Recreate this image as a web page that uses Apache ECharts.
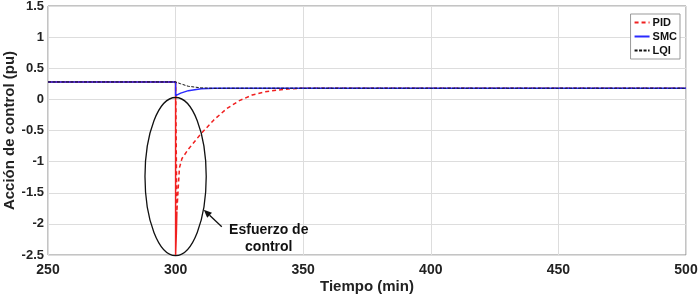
<!DOCTYPE html>
<html><head><meta charset="utf-8">
<script src="https://cdn.jsdelivr.net/npm/echarts@6/dist/echarts.min.js"></script>
<style>html,body{margin:0;padding:0;background:#fff}#c{width:700px;height:297px}</style>
</head><body><div id="c"></div>
<script>
const xTicks = [250, 300, 350, 400, 450, 500];
const yTicks = [-2.5, -2, -1.5, -1, -0.5, 0, 0.5, 1, 1.5];
// PID: solid spike at step, then dashed recovery
const pidSpike = [[250,0.28],[300,0.28],[300,-2.5],[300.3,-2.15],[300.5,-1.8]];
const pidDash = [[250,0.28],[300,0.28],[300.5,-1.8],[301,-1.45],[301.5,-1.1],[302.5,-0.95],[305,-0.8],[310,-0.55],[315,-0.33],[320,-0.15],[325,-0.02],[330,0.07],[335,0.12],[340,0.15],[345,0.17],[350,0.18],[500,0.18]];
const smc = [[250,0.28],[300,0.28],[300,0.06],[302,0.1],[305,0.14],[310,0.17],[315,0.18],[500,0.18]];
const lqi = [[250,0.28],[300,0.28],[302,0.25],[305,0.21],[310,0.185],[315,0.178],[320,0.18],[500,0.18]];
const ellipseAnn = {cx:300, cy:-1.24, rx:12, ry:1.27};
const annText = ['Esfuerzo de', 'control'];

const chart = echarts.init(document.getElementById('c'));
const F = 'Liberation Sans, Arial, sans-serif';
chart.setOption({
  animation:false,
  grid:{left:48, right:14, top:6, bottom:42, show:true, borderColor:'#888', borderWidth:1, containLabel:false, outerBoundsMode:'none'},
  legend:{
    right:20, top:14, orient:'vertical', itemGap:3, itemWidth:15, itemHeight:8,
    backgroundColor:'#fff', borderColor:'#999', borderWidth:1, padding:[3,3,3,3],
    itemStyle:{opacity:0},
    textStyle:{fontFamily:F, fontWeight:'bold', fontSize:11, color:'#111', padding:[0,0,0,-2]},
    data:['PID','SMC','LQI']
  },
  xAxis:{type:'value', min:250, max:500, interval:50,
    axisLine:{show:false}, axisTick:{show:false},
    splitLine:{show:true, lineStyle:{color:'#ddd'}},
    axisLabel:{fontFamily:F, fontWeight:'bold', fontSize:14, color:'#222', margin:8},
    name:'Tiempo (min)', nameLocation:'middle', nameGap:24, nameMoveOverlap:false,
    nameTextStyle:{fontFamily:F, fontWeight:'bold', fontSize:15, color:'#222'}
  },
  yAxis:{type:'value', min:-2.5, max:1.5, interval:0.5,
    axisLine:{show:false}, axisTick:{show:false},
    splitLine:{show:true, lineStyle:{color:'#ddd'}},
    axisLabel:{fontFamily:F, fontWeight:'bold', fontSize:13, color:'#222', margin:4},
    name:'Acción de control (pu)', nameLocation:'middle', nameGap:31, nameMoveOverlap:false,
    nameTextStyle:{fontFamily:F, fontWeight:'bold', fontSize:15, color:'#222'}
  },
  series:[
    {name:'PID', type:'line', data:pidDash, symbol:'none',
      lineStyle:{color:'#f02020', width:1.5, type:[4,3]}, itemStyle:{color:'#f02020'}, z:3},
    {name:'PIDspike', type:'line', data:pidSpike, symbol:'none',
      lineStyle:{color:'#f02020', width:1.5}, z:3},
    {name:'SMC', type:'line', data:smc, symbol:'none',
      lineStyle:{color:'#2a2aff', width:1.5}, itemStyle:{color:'#2a2aff'}, z:4},
    {name:'LQI', type:'line', data:lqi, symbol:'none',
      lineStyle:{color:'#111', width:1, type:[3,1.5]}, itemStyle:{color:'#111'}, z:5}
  ]
});
function drawAnn(){
  const c = chart.convertToPixel({gridIndex:0}, [ellipseAnn.cx, ellipseAnn.cy]);
  const e = chart.convertToPixel({gridIndex:0}, [ellipseAnn.cx+ellipseAnn.rx, ellipseAnn.cy+ellipseAnn.ry]);
  const rx = e[0]-c[0], ry = c[1]-e[1];
  const tip = [c[0]+rx*0.92, c[1]+ry*0.42];
  const tail = [tip[0]+18, tip[1]+17];
  const ang = Math.atan2(tip[1]-tail[1], tip[0]-tail[0]);
  const hl = 8, hw = 3.5;
  const bx = tip[0]-hl*Math.cos(ang), by = tip[1]-hl*Math.sin(ang);
  const px = -Math.sin(ang)*hw, py = Math.cos(ang)*hw;
  chart.setOption({graphic:[
    {type:'ellipse', shape:{cx:c[0], cy:c[1], rx:rx, ry:ry}, style:{fill:'none', stroke:'#111', lineWidth:1.3}, z:10},
    {type:'line', shape:{x1:tail[0], y1:tail[1], x2:bx, y2:by}, style:{stroke:'#111', lineWidth:1.3}, z:10},
    {type:'polygon', shape:{points:[tip,[bx+px,by+py],[bx-px,by-py]]}, style:{fill:'#111'}, z:10},
    {type:'text', x:tail[0]+47, y:tail[1]+3, style:{text:annText[0], fontFamily:F, fontWeight:'bold', fontSize:14, fill:'#111', align:'center', verticalAlign:'middle'}, z:10},
    {type:'text', x:tail[0]+47, y:tail[1]+20, style:{text:annText[1], fontFamily:F, fontWeight:'bold', fontSize:14, fill:'#111', align:'center', verticalAlign:'middle'}, z:10}
  ]});
}
drawAnn();
</script></body></html>
